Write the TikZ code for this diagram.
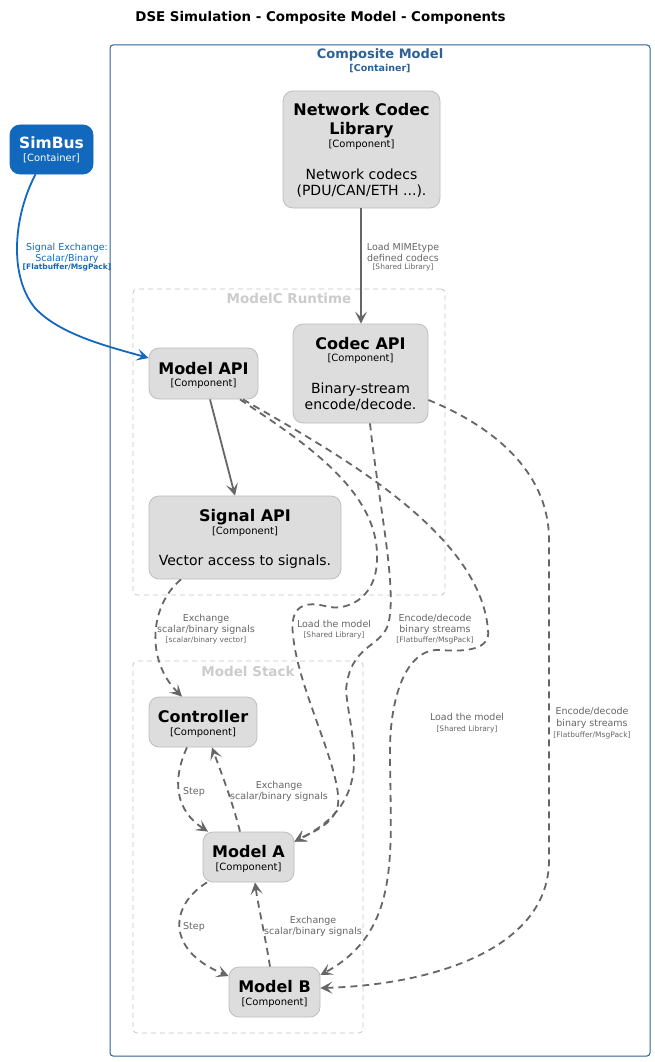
\documentclass[tikz,border=0pt]{standalone}
\usepackage{fontspec}
\setmainfont{DejaVu Sans}
\usetikzlibrary{arrows.meta}
\definecolor{compfill}{HTML}{DDDDDD}
\definecolor{compborder}{HTML}{BDBDBD}
\definecolor{edgegray}{HTML}{666666}
\definecolor{bgray}{HTML}{C4C4C4}
\definecolor{btitle}{HTML}{CCCCCC}
\definecolor{cblue}{HTML}{2E6295}
\definecolor{simblue}{HTML}{1168BD}
\begin{document}
\begin{tikzpicture}[x=1pt,y=-1pt,
 comp/.style={draw=compborder, fill=compfill, rounded corners=10pt, line width=0.8pt, inner sep=0pt},
 contbox/.style={draw=simblue, fill=simblue, rounded corners=10pt, line width=0.8pt, inner sep=0pt},
 boundary/.style={draw=bgray, dash pattern=on 5pt off 4pt, line width=0.8pt, rounded corners=4pt, inner sep=0pt},
 txt/.style={inner sep=0pt, anchor=base},
 cname/.style={txt, font=\fontsize{16}{19}\selectfont\bfseries},
 ctype/.style={txt, font=\fontsize{10}{12}\selectfont},
 cdesc/.style={txt, font=\fontsize{14}{17}\selectfont},
 elab/.style={txt, font=\fontsize{9.5}{11}\selectfont, text=edgegray},
 etech/.style={txt, font=\fontsize{7.5}{9}\selectfont, text=edgegray},
 btitlestyle/.style={txt, font=\fontsize{13.5}{16}\selectfont\bfseries, text=btitle},
 rel/.style={draw=edgegray, line width=1.8pt, -{Stealth[length=12pt,width=12pt,inset=5.5pt]}},
 reldash/.style={rel, dash pattern=on 7pt off 5pt},
 relblue/.style={rel, draw=simblue},
]
\useasboundingbox (0,0) rectangle (655,1062);
\fill[white] (0,0) rectangle (655,1062);

% title
\node[txt, font=\fontsize{13.4}{16}\selectfont\bfseries] (title) at (320.5,22) {DSE Simulation - Composite Model - Components};

% composite container boundary
\node[draw=cblue, line width=1pt, rounded corners=3pt, minimum width=540pt, minimum height=1011pt, inner sep=0pt] (composite) at (380,550.5) {};
\node[txt, font=\fontsize{13}{16}\selectfont\bfseries, text=cblue] (compname) at (380,59) {Composite Model};
\node[txt, font=\fontsize{9.5}{11}\selectfont\bfseries, text=cblue] (comptype) at (380,72) {[Container]};

% inner boundaries
\node[boundary, minimum width=312pt, minimum height=306pt] (runtime) at (289,442) {};
\node[btitlestyle] (runtimename) at (289,303.5) {ModelC Runtime};
\node[boundary, minimum width=230pt, minimum height=372pt] (stack) at (248,847) {};
\node[btitlestyle] (stackname) at (248,676) {Model Stack};

% SimBus
\node[contbox, minimum width=83pt, minimum height=49pt] (simbus) at (51.5,149.5) {};
\node[txt, font=\fontsize{15.5}{18}\selectfont\bfseries, text=white] (simbusname) at (51.5,149) {SimBus};
\node[txt, font=\fontsize{10}{12}\selectfont, text=white] (simbustype) at (51.5,161.5) {[Container]};

% Network Codec Library
\node[comp, minimum width=157pt, minimum height=117pt] (ncl) at (361.5,149.5) {};
\node[cname] (ncl1) at (361.5,116) {Network Codec};
\node[cname] (ncl2) at (361.5,135) {Library};
\node[ctype] (ncl3) at (361.5,147.5) {[Component]};
\node[cdesc] (ncl4) at (361.5,179) {Network codecs};
\node[cdesc] (ncl5) at (361.5,195) {(PDU/CAN/ETH ...).};

% Codec API
\node[comp, minimum width=135pt, minimum height=99pt] (codecapi) at (360.5,373.5) {};
\node[cname] (codec1) at (360.5,349) {Codec API};
\node[ctype] (codec2) at (360.5,361.5) {[Component]};
\node[cdesc] (codec3) at (360.5,393) {Binary-stream};
\node[cdesc] (codec4) at (360.5,409.5) {encode/decode.};

% Model API
\node[comp, minimum width=109pt, minimum height=51pt] (modelapi) at (203.5,373.5) {};
\node[cname] (mapi1) at (203.5,374) {Model API};
\node[ctype] (mapi2) at (203.5,386.5) {[Component]};

% Signal API
\node[comp, minimum width=192pt, minimum height=83pt] (signalapi) at (245,537.5) {};
\node[cname] (sapi1) at (245,521) {Signal API};
\node[ctype] (sapi2) at (245,534) {[Component]};
\node[cdesc] (sapi3) at (245,565.5) {Vector access to signals.};

% Controller
\node[comp, minimum width=108pt, minimum height=50pt] (controller) at (203,722) {};
\node[cname] (ctrl1) at (203,722) {Controller};
\node[ctype] (ctrl2) at (203,735.5) {[Component]};

% Model A
\node[comp, minimum width=91pt, minimum height=50pt] (modela) at (248.5,857) {};
\node[cname] (ma1) at (248.5,857) {Model A};
\node[ctype] (ma2) at (248.5,870.5) {[Component]};

% Model B
\node[comp, minimum width=91pt, minimum height=50pt] (modelb) at (274.5,992) {};
\node[cname] (mb1) at (274.5,992) {Model B};
\node[ctype] (mb2) at (274.5,1005.5) {[Component]};

% ---- connectors ----
% SimBus -> Model API
\draw[relblue] ([xshift=-16pt]simbus.south) .. controls (14,215) and (8,275) .. (35,308) .. controls (60,335) and (110,347) .. ([yshift=15.5pt]modelapi.west);
\node[txt, font=\fontsize{9.5}{11}\selectfont, text=simblue] (sb1) at (67,250) {Signal Exchange:};
\node[txt, font=\fontsize{9.5}{11}\selectfont, text=simblue] (sb2) at (67,261) {Scalar/Binary};
\node[txt, font=\fontsize{7.5}{9}\selectfont\bfseries, text=simblue] (sb3) at (67,269.5) {[Flatbuffer/MsgPack]};

% Network Codec Library -> Codec API
\draw[rel] ([xshift=-0.5pt]ncl.south) -- ([xshift=-0.5pt]codecapi.north -| ncl.south);
\node[elab] (nc1) at (403,250) {Load MIMEtype};
\node[elab] (nc2) at (403,261) {defined codecs};
\node[etech] (nc3) at (403,269.5) {[Shared Library]};

% Model API -> Signal API
\draw[rel] ([xshift=6.5pt]modelapi.south) -- ([xshift=-10pt]signalapi.north);

% Model API -> Model A (load)
\draw[reldash] ([xshift=36.5pt]modelapi.south) .. controls (300,440) and (380,490) .. (377,560) .. controls (376,600) and (345,612) .. (325,606) .. controls (300,600) and (290,610) .. (293,635) .. controls (298,690) and (342,770) .. (338,805) .. controls (334,825) and (310,833) .. ([yshift=-10pt]modela.north east);
\node[elab] (la1) at (334,627) {Load the model};
\node[etech] (la2) at (334,637.5) {[Shared Library]};

% Codec API -> Model A (encode)
\draw[reldash] ([xshift=9.5pt]codecapi.south) .. controls (378,500) and (398,590) .. (388,625) .. controls (380,648) and (350,645) .. (346,690) .. controls (350,740) and (378,800) .. ([yshift=-10pt]modela.north east);
\node[elab] (ea1) at (435,621.3) {Encode/decode};
\node[elab] (ea2) at (435,632) {binary streams};
\node[etech] (ea3) at (435,642.5) {[Flatbuffer/MsgPack]};

% Model API -> Model B (load)
\draw[reldash] ([xshift=39.5pt]modelapi.south) .. controls (330,450) and (480,530) .. (488,630) .. controls (491,650) and (465,652) .. (440,650) .. controls (405,648) and (390,700) .. (390,750) .. controls (390,850) and (403,930) .. ([yshift=17pt]modelb.east);
\node[elab] (lb1) at (467,720.5) {Load the model};
\node[etech] (lb2) at (467,731) {[Shared Library]};

% Codec API -> Model B (encode)
\draw[reldash] ([yshift=-26.5pt]codecapi.east) .. controls (490,425) and (549,470) .. (549,540) -- (549,860) .. controls (549,950) and (430,985) .. ([yshift=4pt]modelb.east);
\node[elab] (eb1) at (592,714) {Encode/decode};
\node[elab] (eb2) at (592,726) {binary streams};
\node[etech] (eb3) at (592,737) {[Flatbuffer/MsgPack]};

% Signal API -> Controller
\draw[reldash] ([xshift=-64pt]signalapi.south) .. controls (150,605) and (145,660) .. ([xshift=-21pt]controller.north);
\node[elab] (sc1) at (206,621.5) {Exchange};
\node[elab] (sc2) at (206,632) {scalar/binary signals};
\node[etech] (sc3) at (206,642) {[scalar/binary vector]};

% Controller -> Model A (step)
\draw[reldash] ([xshift=-16pt]controller.south) .. controls (172,780) and (175,810) .. ([xshift=-40.5pt]modela.north);
\node[elab] (st1) at (194,794) {Step};

% Model A -> Controller (exchange)
\draw[reldash] ([xshift=-8.5pt]modela.north) .. controls (232,800) and (222,775) .. ([xshift=9pt]controller.south);
\node[elab] (xa1) at (279,788.3) {Exchange};
\node[elab] (xa2) at (279,799.5) {scalar/binary signals};

% Model A -> Model B (step)
\draw[reldash] ([xshift=-41.5pt]modela.south) .. controls (170,905) and (165,950) .. ([yshift=16pt]modelb.west);
\node[elab] (st2) at (194,929.5) {Step};

% Model B -> Model A (exchange)
\draw[reldash] ([xshift=-4.5pt]modelb.north) .. controls (265,935) and (258,905) .. ([xshift=6.5pt]modela.south);
\node[elab] (xb1) at (313,923) {Exchange};
\node[elab] (xb2) at (313,934) {scalar/binary signals};
\end{tikzpicture}
\end{document}
